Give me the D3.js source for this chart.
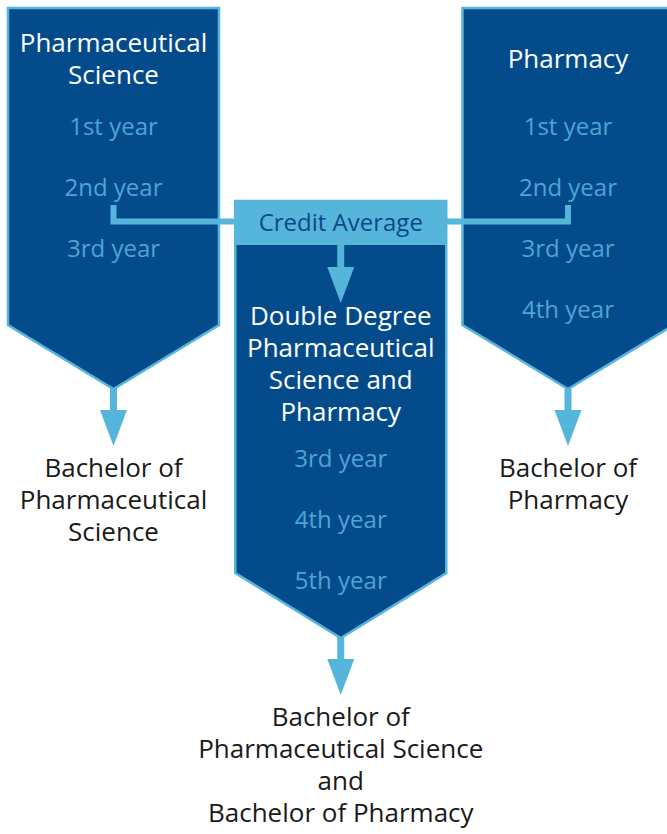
<!DOCTYPE html>
<html>
<head>
<meta charset="utf-8">
<script src="https://cdn.jsdelivr.net/npm/d3@7"></script>
<style>
  body { margin: 0; background: #fff; }
  svg { display: block; font-family: "Open Sans", "Noto Sans", sans-serif; }
</style>
</head>
<body>
<div id="chart"></div>
<script>
const programs = ["Pharmaceutical Science", "Double Degree", "Pharmacy"]
const titles = [
    ["Pharmaceutical", "Science"],
    ["Double Degree", "Pharmaceutical", "Science and", "Pharmacy"],
    ["Pharmacy"]
]
const years = [
    ["1st year", "2nd year", "3rd year"],
    ["3rd year", "4th year", "5th year"],
    ["1st year", "2nd year", "3rd year", "4th year"]
]
const outcomes = [
    ["Bachelor of", "Pharmaceutical", "Science"],
    ["Bachelor of", "Pharmaceutical Science", "and", "Bachelor of Pharmacy"],
    ["Bachelor of", "Pharmacy"]
]
const bridge = "Credit Average"

const width = 667,
      height = 834

const dark = "#044b8c",
      light = "#56b5db",
      yearColor = "#4ea5d5"

const boxWidth = 211,
      lineHeight = 32,
      yearStep = 61

const svg = d3.select("#chart")
    .append("svg")
    .attr("width", width)
    .attr("height", height)

const x = d3.scalePoint()
    .domain(programs)
    .range([113.5, 568])

// per column: top of box, bottom of sides, tip, first title baseline, first year baseline
const layout = [
    { top: 8, side: 325, tip: 389, title: 52, year: 135 },
    { top: 245, side: 573, tip: 638, title: 325, year: 467 },
    { top: 8, side: 325, tip: 389, title: 68, year: 135 }
]

const arrow = (cx, y0) => {
    const stem = 22, head = 36, sw = 3.5, hw = 13.5
    return `M${cx - sw},${y0} L${cx + sw},${y0} L${cx + sw},${y0 + stem} L${cx + hw},${y0 + stem}
            L${cx},${y0 + stem + head} L${cx - hw},${y0 + stem} L${cx - sw},${y0 + stem} Z`
}

programs.forEach((p, i) => {
    const cx = x(p), L = layout[i]
    const x0 = cx - boxWidth / 2, x1 = cx + boxWidth / 2
    const g = svg.append("g")

    const top = i === 1 ? 201 : L.top
    g.append("path")
        .attr("d", `M${x0},${top} L${x1},${top} L${x1},${L.side} L${cx},${L.tip} L${x0},${L.side} Z`)
        .attr("fill", dark)
        .attr("stroke", light)
        .attr("stroke-width", 2.5)

    if (i === 1) {
        g.append("rect")
            .attr("x", x0)
            .attr("y", 201)
            .attr("width", boxWidth)
            .attr("height", L.top - 201)
            .attr("fill", light)
        g.append("text")
            .attr("x", cx)
            .attr("y", 231)
            .attr("text-anchor", "middle")
            .attr("font-size", 24)
            .attr("fill", "#0b4a8a")
            .text(bridge)
        g.append("path")
            .attr("d", arrow(cx, L.top))
            .attr("fill", light)
    }

    g.selectAll("text.title")
        .data(titles[i])
        .join("text")
        .attr("class", "title")
        .attr("x", cx)
        .attr("y", (d, k) => L.title + k * lineHeight)
        .attr("text-anchor", "middle")
        .attr("font-size", 26)
        .attr("fill", "#fff")
        .text(d => d)

    g.selectAll("text.year")
        .data(years[i])
        .join("text")
        .attr("class", "year")
        .attr("x", cx)
        .attr("y", (d, k) => L.year + k * yearStep)
        .attr("text-anchor", "middle")
        .attr("font-size", 24)
        .attr("fill", yearColor)
        .text(d => d)

    g.append("path")
        .attr("d", arrow(cx, L.tip - 1))
        .attr("fill", light)

    g.selectAll("text.outcome")
        .data(outcomes[i])
        .join("text")
        .attr("class", "outcome")
        .attr("x", cx)
        .attr("y", (d, k) => L.tip + 88 + k * lineHeight)
        .attr("text-anchor", "middle")
        .attr("font-size", 26)
        .attr("fill", "#1a1a1a")
        .text(d => d)
})

// connectors from 2nd year to credit average box
const yLink = 221.5
const mid = x(programs[1])
const half = boxWidth / 2
svg.append("path")
    .attr("d", `M${x(programs[0])},205 L${x(programs[0])},${yLink} L${mid - half},${yLink}`)
    .attr("fill", "none")
    .attr("stroke", light)
    .attr("stroke-width", 6)
svg.append("path")
    .attr("d", `M${x(programs[2])},205 L${x(programs[2])},${yLink} L${mid + half},${yLink}`)
    .attr("fill", "none")
    .attr("stroke", light)
    .attr("stroke-width", 6)
</script>
</body>
</html>
